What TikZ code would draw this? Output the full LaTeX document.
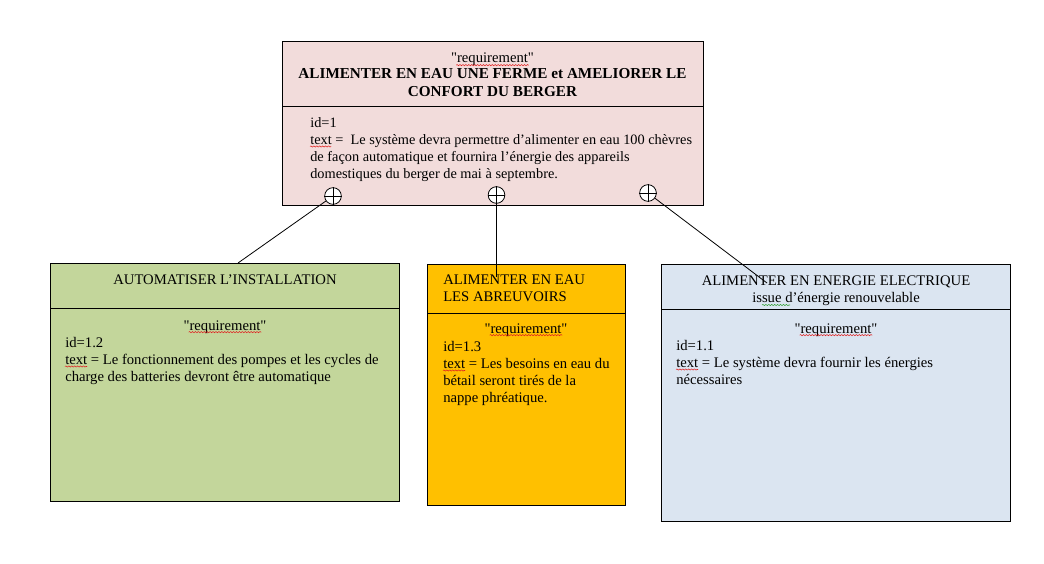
\documentclass[tikz,border=0pt]{standalone}
\usepackage{fontspec}
\setmainfont{Liberation Serif}
\newfontfamily\plainserif{Liberation Serif}
\usetikzlibrary{decorations.pathmorphing}
\definecolor{pinkfill}{HTML}{F2DCDB}
\definecolor{greenfill}{HTML}{C3D69B}
\definecolor{orangefill}{HTML}{FFC000}
\definecolor{bluefill}{HTML}{DBE5F1}
\definecolor{spellred}{HTML}{E02020}
\definecolor{spellgreen}{HTML}{30A030}
\begin{document}
\begin{tikzpicture}[x=0.75pt,y=-0.75pt,
  boxframe/.style={draw=black, line width=0.75pt},
  txt/.style={inner sep=0pt, font=\plainserif\fontsize{11}{12.75}\selectfont},
  plusnode/.style={circle, draw=black, fill=white, line width=0.6pt, minimum size=12.5pt, inner sep=0pt},
  link/.style={draw=black, line width=0.6pt},
  squig/.style={decorate, decoration={snake, amplitude=0.45pt, segment length=2.2pt}, line width=0.4pt}]
\useasboundingbox (0,0) rectangle (1044,563);
\fill[white] (0,0) rectangle (1044,563);

% top box
\path[boxframe, fill=pinkfill] (282,42) rectangle (703,205);
\draw[boxframe] (282,107) -- (703,107);
\node[txt, anchor=base] (treq) at (492.5,63) {"requirement"};
\node[txt, anchor=base, align=center, font=\plainserif\fontsize{11.4}{13.5}\selectfont\bfseries] (ttitle) at (492.5,97) {ALIMENTER EN EAU UNE FERME et AMELIORER LE\\CONFORT DU BERGER};
\node[txt, anchor=base west, align=left, font=\plainserif\fontsize{10.75}{12.75}\selectfont] (tbody) at (310,178) {id=1\\text = \ Le système devra permettre d’alimenter en eau 100 chèvres\\de façon automatique et fournira l’énergie des appareils\\domestiques du berger de mai à septembre.};

% green box
\path[boxframe, fill=greenfill] (50,263) rectangle (399,501);
\draw[boxframe] (50,308) -- (399,308);
\node[txt, anchor=base] (ghead) at (225,284) {AUTOMATISER L’INSTALLATION};
\node[txt, anchor=base] (greq) at (225,330) {"requirement"};
\node[txt, anchor=base west, align=left] (gbody) at (65,381) {id=1.2\\text = Le fonctionnement des pompes et les cycles de\\charge des batteries devront être automatique};

% orange box
\path[boxframe, fill=orangefill] (427,264) rectangle (625,505);
\draw[boxframe] (427,313) -- (625,313);
\node[txt, anchor=base west, align=left] (ohead) at (443,301) {ALIMENTER EN EAU\\LES ABREUVOIRS};
\node[txt, anchor=base] (oreq) at (526,333) {"requirement"};
\node[txt, anchor=base west, align=left] (obody) at (443,402) {id=1.3\\text = Les besoins en eau du\\bétail seront tirés de la\\nappe phréatique.};

% blue box
\path[boxframe, fill=bluefill] (661,264) rectangle (1010,521);
\draw[boxframe] (661,309) -- (1010,309);
\node[txt, anchor=base, align=center] (bhead) at (836,302) {ALIMENTER EN ENERGIE ELECTRIQUE\\issue d’énergie renouvelable};
\node[txt, anchor=base] (breq) at (836,333) {"requirement"};
\node[txt, anchor=base west, align=left] (bbody) at (676,384) {id=1.1\\text = Le système devra fournir les énergies\\nécessaires};

% spell-check marks
\draw[spellred, squig] ([xshift=4pt,yshift=-1.6pt]treq.base west) -- ([xshift=-4pt,yshift=-1.6pt]treq.base east);
\draw[spellred, squig] ([xshift=4pt,yshift=-1.6pt]greq.base west) -- ([xshift=-4pt,yshift=-1.6pt]greq.base east);
\draw[spellred, squig] ([xshift=4pt,yshift=-1.6pt]oreq.base west) -- ([xshift=-4pt,yshift=-1.6pt]oreq.base east);
\draw[spellred, squig] ([xshift=4pt,yshift=-1.6pt]breq.base west) -- ([xshift=-4pt,yshift=-1.6pt]breq.base east);
\draw[spellred, squig] (310,146.5) -- (331,146.5);
\draw[spellred, squig] (65,366.5) -- (87,366.5);
\draw[spellred, squig] (443,370.5) -- (465,370.5);
\draw[spellred, squig] (676,369.5) -- (698,369.5);
\draw[spellgreen, squig] (762,305) -- (790,305);

% connectors
\node[plusnode] (c1) at (333,196) {};
\node[plusnode] (c2) at (496.5,195) {};
\node[plusnode] (c3) at (648,193) {};
\coordinate (g1) at (238,263);
\coordinate (o1) at (496.5,277);
\coordinate (b1) at (767,283);
\draw[link] (c1) -- (g1);
\draw[link] (c2) -- (o1);
\draw[link] (c3) -- (b1);
\foreach \c in {c1,c2,c3}{
  \draw[line width=0.6pt] (\c.north) -- (\c.south);
  \draw[line width=0.6pt] (\c.west) -- (\c.east);
}
\end{tikzpicture}
\end{document}
